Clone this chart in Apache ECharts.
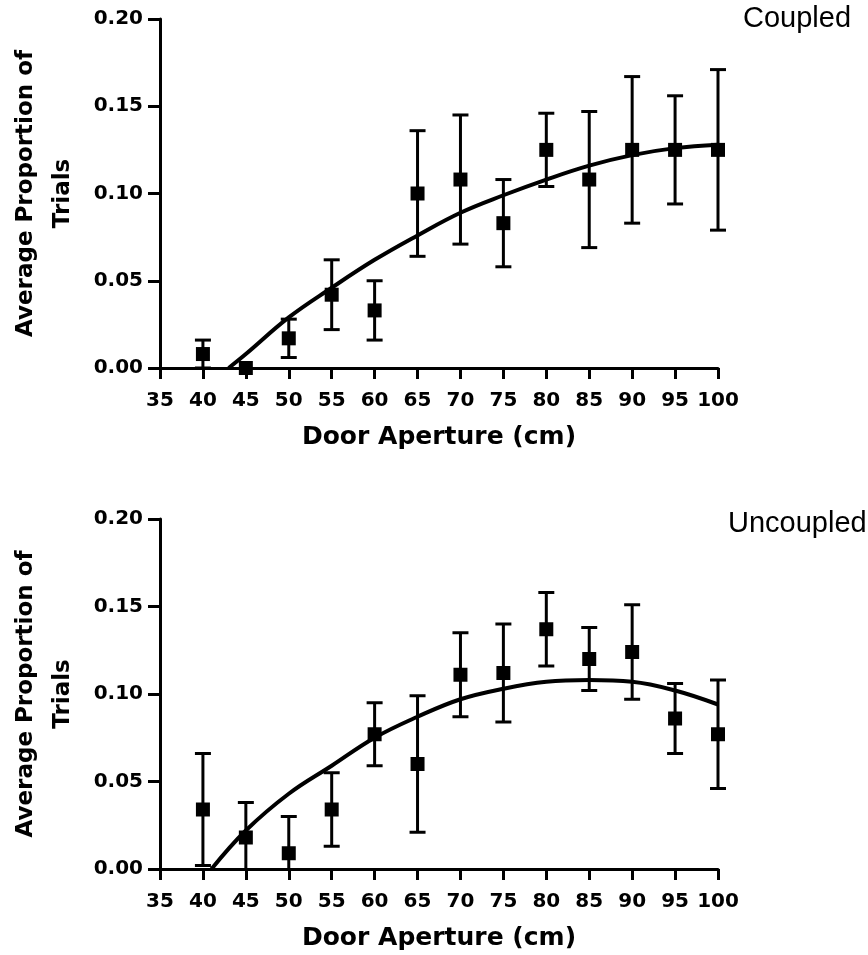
<!DOCTYPE html>
<html>
<head>
<meta charset="utf-8">
<title>Door Aperture</title>
<script src="https://cdn.jsdelivr.net/npm/echarts@6/dist/echarts.min.js"></script>
<style>
  html, body { margin: 0; padding: 0; background: #fff; }
  #chart { width: 868px; height: 955px; }
</style>
</head>
<body>
<div id="chart"></div>
<script>
// Door aperture (cm) at which trials were sampled
const apertures = [40, 45, 50, 55, 60, 65, 70, 75, 80, 85, 90, 95, 100];

// Coupled condition: mean proportion of trials and its error
const coupledMean = [0.008, 0.000, 0.017, 0.042, 0.033, 0.100, 0.108, 0.083, 0.125, 0.108, 0.125, 0.125, 0.125];
const coupledErr  = [0.008, 0.000, 0.011, 0.020, 0.017, 0.036, 0.037, 0.025, 0.021, 0.039, 0.042, 0.031, 0.046];

// Uncoupled condition: mean proportion of trials and its error
const uncoupledMean = [0.034, 0.018, 0.009, 0.034, 0.077, 0.060, 0.111, 0.112, 0.137, 0.120, 0.124, 0.086, 0.077];
const uncoupledErr  = [0.032, 0.020, 0.021, 0.021, 0.018, 0.039, 0.024, 0.028, 0.021, 0.018, 0.027, 0.020, 0.031];

// Fitted curves
const coupledFitX = [43, 45, 50, 55, 60, 65, 70, 75, 80, 85, 90, 95, 100];
const coupledFitY = [0.000, 0.008, 0.029, 0.046, 0.062, 0.076, 0.089, 0.099, 0.108, 0.116, 0.122, 0.126, 0.128];
const uncoupledFitX = [41, 45, 50, 55, 60, 65, 70, 75, 80, 85, 90, 95, 100];
const uncoupledFitY = [0.000, 0.022, 0.043, 0.059, 0.075, 0.087, 0.097, 0.103, 0.107, 0.108, 0.107, 0.102, 0.094];

// Axis ticks
const xTicks = { min: 35, max: 100, interval: 5 };
const yTicks = { min: 0, max: 0.20, interval: 0.05 };
const panelLabels = ['Coupled', 'Uncoupled'];
const xTitle = 'Door Aperture (cm)';
const yTitle = 'Average Proportion of\nTrials';

const INK = '#000';
const tickFont = { fontFamily: 'DejaVu Sans', fontWeight: 'bold', fontSize: 20, color: INK };

function pairs(xs, ys) { return xs.map((x, i) => [x, ys[i]]); }
function bars(xs, m, e) { return xs.map((x, i) => [x, m[i] - e[i], m[i] + e[i]]); }

function xAxis(gi) {
  return {
    type: 'value', gridIndex: gi,
    min: xTicks.min, max: xTicks.max, interval: xTicks.interval,
    name: xTitle, nameLocation: 'middle', nameGap: 57,
    nameTextStyle: { fontFamily: 'DejaVu Sans', fontWeight: 'bold', fontSize: 25, color: INK },
    axisLine: { show: true, onZero: false, lineStyle: { color: INK, width: 3 } },
    axisTick: { show: true, length: 11, lineStyle: { color: INK, width: 3 } },
    axisLabel: Object.assign({ margin: 23, showMinLabel: true, showMaxLabel: true, hideOverlap: false }, tickFont),
    splitLine: { show: false }
  };
}
function yAxis(gi) {
  return {
    type: 'value', gridIndex: gi,
    min: yTicks.min, max: yTicks.max, interval: yTicks.interval,
    name: yTitle, nameLocation: 'middle', nameGap: 78, nameRotate: 90,
    nameTextStyle: { fontFamily: 'DejaVu Sans', fontWeight: 'bold', fontSize: 23, lineHeight: 37, color: INK },
    axisLine: { show: true, onZero: false, lineStyle: { color: INK, width: 3 } },
    axisTick: { show: true, length: 12, lineStyle: { color: INK, width: 3 } },
    axisLabel: Object.assign({ margin: 17, formatter: v => v.toFixed(2) }, tickFont),
    splitLine: { show: false }
  };
}

// Vertical error bars with caps; the part below the plotting area is cut off
function errorBars(gi, data) {
  return {
    type: 'custom', xAxisIndex: gi, yAxisIndex: gi, clip: false, z: 3,
    data: data,
    renderItem: function (params, api) {
      const x = api.value(0);
      const lo = api.coord([x, api.value(1)]);
      const hi = api.coord([x, api.value(2)]);
      if (Math.abs(lo[1] - hi[1]) < 0.5) return null;
      const bottom = params.coordSys.y + params.coordSys.height;
      const cap = 8;
      const st = { stroke: INK, lineWidth: 3, fill: null };
      const yLo = Math.min(lo[1], bottom);
      const children = [
        { type: 'line', shape: { x1: lo[0], y1: yLo, x2: hi[0], y2: hi[1] }, style: st },
        { type: 'line', shape: { x1: hi[0] - cap, y1: hi[1], x2: hi[0] + cap, y2: hi[1] }, style: st }
      ];
      if (lo[1] <= bottom + 0.5) {
        children.push({ type: 'line', shape: { x1: lo[0] - cap, y1: lo[1], x2: lo[0] + cap, y2: lo[1] }, style: st });
      }
      return { type: 'group', children: children };
    }
  };
}
function points(gi, data) {
  return {
    type: 'scatter', xAxisIndex: gi, yAxisIndex: gi, clip: false, z: 4,
    symbol: 'rect', symbolSize: 14, itemStyle: { color: INK, opacity: 1 },
    data: data
  };
}
function fit(gi, data) {
  return {
    type: 'line', xAxisIndex: gi, yAxisIndex: gi, smooth: 0.4, showSymbol: false, z: 5,
    lineStyle: { color: INK, width: 4 }, data: data
  };
}

const chart = echarts.init(document.getElementById('chart'), null, { renderer: 'canvas' });
chart.setOption({
  backgroundColor: '#fff',
  animation: false,
  grid: [
    { left: 160, width: 558, top: 19, height: 349, containLabel: false, outerBoundsMode: 'none' },
    { left: 160, width: 558, top: 519, height: 350, containLabel: false, outerBoundsMode: 'none' }
  ],
  xAxis: [xAxis(0), xAxis(1)],
  yAxis: [yAxis(0), yAxis(1)],
  graphic: [
    { type: 'text', left: 743, top: 4, style: { text: panelLabels[0], font: '29px "Liberation Sans", Arial, sans-serif', fill: INK } },
    { type: 'text', left: 728, top: 509, style: { text: panelLabels[1], font: '29px "Liberation Sans", Arial, sans-serif', fill: INK } }
  ],
  series: [
    errorBars(0, bars(apertures, coupledMean, coupledErr)),
    points(0, pairs(apertures, coupledMean)),
    fit(0, pairs(coupledFitX, coupledFitY)),
    errorBars(1, bars(apertures, uncoupledMean, uncoupledErr)),
    points(1, pairs(apertures, uncoupledMean)),
    fit(1, pairs(uncoupledFitX, uncoupledFitY))
  ]
});
</script>
</body>
</html>
